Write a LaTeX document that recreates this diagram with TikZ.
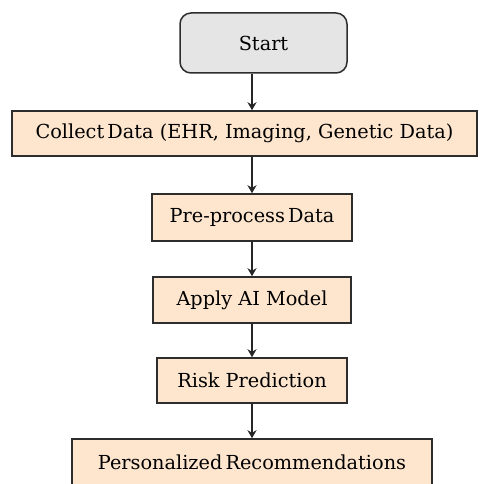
\documentclass[tikz,border=0pt]{standalone}
\usepackage{fontspec}
\newfontfamily\boxfont{DejaVu Serif}
\usetikzlibrary{arrows.meta}
\definecolor{peach}{RGB}{253,229,206}
\definecolor{startgray}{RGB}{229,229,229}
\definecolor{edge}{RGB}{45,45,45}
\tikzset{
  box/.style={draw=edge, line width=1.5pt, fill=peach, inner sep=0pt,
    font=\boxfont\fontsize{19.3}{23}\selectfont, text=black},
  startbox/.style={box, fill=startgray, rounded corners=11pt},
  arr/.style={draw=black!85, line width=1.3pt,
    -{Stealth[length=8pt,width=9pt,inset=2.5pt]}}
}
\begin{document}
\begin{tikzpicture}[x=1pt,y=-1pt]
  \useasboundingbox (0,0) rectangle (480,484);
  \clip (0,0) rectangle (480,484);

  % process steps, top to bottom
  \node[startbox, minimum width=167pt, minimum height=60pt] (start) at (263.5,43) {Start};
  \node[box, minimum width=465pt, minimum height=45pt] (collect) at (244.5,133.5)
    {Collect\hspace{-3pt} Data (EHR, Imaging, Genetic Data)};
  \node[box, minimum width=200pt, minimum height=47pt] (pre) at (252,217.5) {Pre-process\hspace{-3pt} Data};
  \node[box, minimum width=198pt, minimum height=46pt] (apply) at (252,300) {Apply AI Model};
  \node[box, minimum width=190pt, minimum height=45pt] (risk) at (252,380.5) {Risk Prediction};
  \node[box, minimum width=360pt, minimum height=46pt] (pers) at (252,462) {Personalized\hspace{-3pt} Recommendations};

  % connectors share one vertical axis
  \draw[arr] (start.south -| pre.north) -- (collect.north -| pre.north);
  \draw[arr] (collect.south -| pre.north) -- (pre.north);
  \draw[arr] (pre.south) -- (apply.north);
  \draw[arr] (apply.south) -- (risk.north);
  \draw[arr] (risk.south) -- (pers.north);
\end{tikzpicture}
\end{document}
